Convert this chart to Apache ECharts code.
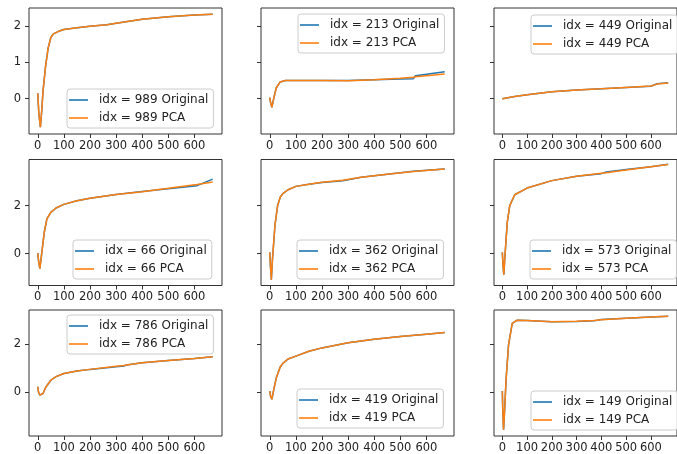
<!DOCTYPE html>
<html>
<head>
<meta charset="utf-8">
<script src="https://cdn.jsdelivr.net/npm/echarts@6/dist/echarts.min.js"></script>
<style>
html,body{margin:0;padding:0;background:#fff;}
#c{width:677px;height:454px;}
</style>
</head>
<body>
<div id="c"></div>
<script>
// ---- data ----
const xTicks = [0, 100, 200, 300, 400, 500, 600];
const yTicksRow1 = [0, 1, 2];
const yTicksRow2 = [0, 2];
const yTicksRow3 = [0, 2];

const ids = [989, 213, 449, 66, 362, 573, 786, 419, 149];

const x989    = [0, 4, 10, 15, 20, 30, 40, 50, 60, 80, 100, 150, 200, 265, 300, 400, 500, 600, 670];
const orig989 = [0.15, -0.4, -0.78, -0.35, 0.2, 0.9, 1.4, 1.68, 1.78, 1.85, 1.9, 1.95, 1.99, 2.03, 2.07, 2.18, 2.25, 2.3, 2.32];
const pca989  = [0.15, -0.4, -0.78, -0.35, 0.2, 0.9, 1.4, 1.68, 1.78, 1.85, 1.9, 1.95, 1.99, 2.03, 2.07, 2.18, 2.25, 2.3, 2.32];

const x213    = [0, 3, 8, 15, 25, 40, 60, 100, 200, 300, 400, 500, 550, 558, 600, 670];
const orig213 = [0.03, -0.1, -0.24, 0.0, 0.3, 0.46, 0.5, 0.5, 0.5, 0.5, 0.52, 0.54, 0.55, 0.63, 0.67, 0.74];
const pca213  = [0.03, -0.1, -0.24, 0.0, 0.3, 0.46, 0.5, 0.5, 0.5, 0.49, 0.52, 0.56, 0.59, 0.6, 0.63, 0.68];

const x449    = [0, 50, 100, 150, 200, 300, 400, 500, 600, 625, 670];
const orig449 = [0.0, 0.06, 0.11, 0.15, 0.19, 0.24, 0.27, 0.31, 0.34, 0.41, 0.44];
const pca449  = [0.0, 0.06, 0.11, 0.15, 0.19, 0.24, 0.27, 0.31, 0.35, 0.4, 0.43];

const x66     = [0, 3, 8, 15, 25, 35, 50, 70, 100, 150, 200, 300, 400, 500, 610, 670];
const orig66  = [0.02, -0.3, -0.63, 0.0, 0.9, 1.45, 1.72, 1.9, 2.05, 2.2, 2.31, 2.46, 2.59, 2.7, 2.83, 3.1];
const pca66   = [0.02, -0.3, -0.63, 0.0, 0.9, 1.45, 1.72, 1.9, 2.05, 2.2, 2.31, 2.46, 2.58, 2.72, 2.88, 2.98];

const x362    = [0, 3, 6, 10, 20, 30, 40, 50, 70, 100, 150, 200, 280, 350, 450, 550, 670];
const orig362 = [0.05, -0.6, -1.09, -0.3, 1.2, 2.0, 2.35, 2.5, 2.66, 2.8, 2.89, 2.96, 3.03, 3.18, 3.31, 3.43, 3.52];
const pca362  = [0.05, -0.6, -1.09, -0.3, 1.2, 2.0, 2.35, 2.5, 2.66, 2.8, 2.89, 2.97, 3.06, 3.18, 3.31, 3.42, 3.52];

const x573    = [0, 3, 6, 10, 20, 30, 50, 100, 200, 300, 400, 420, 500, 600, 670];
const orig573 = [0.05, -0.5, -0.88, -0.2, 1.3, 2.0, 2.45, 2.73, 3.04, 3.22, 3.33, 3.4, 3.5, 3.62, 3.72];
const pca573  = [0.05, -0.5, -0.88, -0.2, 1.3, 2.0, 2.45, 2.73, 3.04, 3.22, 3.35, 3.37, 3.48, 3.62, 3.71];

const x786    = [0, 3, 8, 12, 20, 30, 50, 70, 100, 150, 200, 300, 330, 340, 400, 500, 600, 670];
const orig786 = [0.23, 0.0, -0.12, -0.18, -0.05, 0.2, 0.5, 0.65, 0.78, 0.88, 0.95, 1.06, 1.09, 1.13, 1.22, 1.32, 1.4, 1.47];
const pca786  = [0.23, 0.0, -0.12, -0.18, -0.05, 0.2, 0.5, 0.65, 0.78, 0.88, 0.95, 1.08, 1.11, 1.13, 1.22, 1.32, 1.4, 1.47];

const x419    = [0, 3, 8, 15, 25, 40, 50, 70, 100, 150, 200, 300, 400, 500, 600, 670];
const orig419 = [0.05, -0.15, -0.29, 0.1, 0.6, 1.05, 1.2, 1.38, 1.5, 1.7, 1.84, 2.05, 2.2, 2.31, 2.41, 2.48];
const pca419  = [0.05, -0.15, -0.29, 0.1, 0.6, 1.05, 1.2, 1.38, 1.5, 1.7, 1.84, 2.05, 2.2, 2.31, 2.41, 2.48];

const x149    = [0, 2, 5, 10, 15, 25, 40, 60, 100, 200, 300, 370, 400, 500, 600, 670];
const orig149 = [0.05, -0.8, -1.55, -0.6, 0.5, 1.95, 2.86, 2.99, 2.98, 2.92, 2.93, 2.96, 3.02, 3.07, 3.12, 3.15];
const pca149  = [0.05, -0.8, -1.55, -0.6, 0.5, 1.95, 2.86, 2.99, 2.98, 2.92, 2.94, 2.98, 3.01, 3.07, 3.12, 3.15];

const panelData = [
  [x989, orig989, pca989], [x213, orig213, pca213], [x449, orig449, pca449],
  [x66, orig66, pca66],    [x362, orig362, pca362], [x573, orig573, pca573],
  [x786, orig786, pca786], [x419, orig419, pca419], [x149, orig149, pca149]
];

// ---- layout ----
const colLeft = [29, 261, 494];
const colWidth = 193;
const rowTop = [8, 159.5, 310];
const rowHeight = 126;
const rowYRange = [[-0.97, 2.49], [-1.33, 3.92], [-1.81, 3.41]];
const rowYTicks = [yTicksRow1, yTicksRow2, yTicksRow3];
const xRange = [-33.6, 705.6];
const legendPos = [
  [67, 89], [298, 14], [531, 15],
  [73, 240], [297, 240], [530, 240],
  [67, 315], [297, 389], [531, 391]
];

const BLUE = '#1f77b4', ORANGE = '#ff7f0e';
const FONT = 'DejaVu Sans';

const grids = [], xAxes = [], yAxes = [], series = [], legends = [];
for (let i = 0; i < 9; i++) {
  const r = Math.floor(i / 3), c = i % 3;
  grids.push({
    left: colLeft[c], top: rowTop[r], width: colWidth, height: rowHeight,
    show: true, borderColor: '#333', borderWidth: 1, backgroundColor: '#fff'
  });
  xAxes.push({
    type: 'value', gridIndex: i, min: xRange[0], max: xRange[1], position: 'bottom',
    axisLine: { show: false, onZero: false }, splitLine: { show: false },
    axisTick: { show: true, length: 4, inside: false, customValues: xTicks, lineStyle: { color: '#333', width: 1 } },
    axisLabel: { show: true, customValues: xTicks, margin: 6, fontSize: 11.5, fontFamily: FONT, color: '#222' }
  });
  yAxes.push({
    type: 'value', gridIndex: i, min: rowYRange[r][0], max: rowYRange[r][1], position: 'left',
    axisLine: { show: false, onZero: false }, splitLine: { show: false },
    axisTick: { show: true, length: 4, inside: false, customValues: rowYTicks[r], lineStyle: { color: '#333', width: 1 } },
    axisLabel: { show: c === 0, customValues: rowYTicks[r], margin: 8, fontSize: 11.5, fontFamily: FONT, color: '#222' }
  });
  const [xs, o, p] = panelData[i];
  const nO = 'idx = ' + ids[i] + ' Original';
  const nP = 'idx = ' + ids[i] + ' PCA';
  series.push({
    name: nO, type: 'line', xAxisIndex: i, yAxisIndex: i, showSymbol: false, symbol: 'none',
    data: xs.map((x, k) => [x, o[k]]), lineStyle: { color: BLUE, width: 1.5 }, itemStyle: { color: BLUE }, z: 2
  });
  series.push({
    name: nP, type: 'line', xAxisIndex: i, yAxisIndex: i, showSymbol: false, symbol: 'none',
    data: xs.map((x, k) => [x, p[k]]), lineStyle: { color: ORANGE, width: 1.5 }, itemStyle: { color: ORANGE }, z: 3
  });
  legends.push({
    orient: 'vertical', left: legendPos[i][0], top: legendPos[i][1],
    data: [nO, nP], selectedMode: false,
    backgroundColor: 'rgba(255,255,255,0.85)', borderColor: '#cccccc', borderWidth: 1, borderRadius: 3,
    padding: [4, 5, 3, 2], itemGap: 4, itemWidth: 19, itemHeight: 1.6, icon: 'rect',
    textStyle: { fontSize: 12, fontFamily: FONT, color: '#222', lineHeight: 14, padding: [0, 0, 0, 6] }
  });
}

const chart = echarts.init(document.getElementById('c'), null, { renderer: 'canvas' });
chart.setOption({
  animation: false,
  backgroundColor: '#fff',
  grid: grids, xAxis: xAxes, yAxis: yAxes, series: series, legend: legends
});
</script>
</body>
</html>
